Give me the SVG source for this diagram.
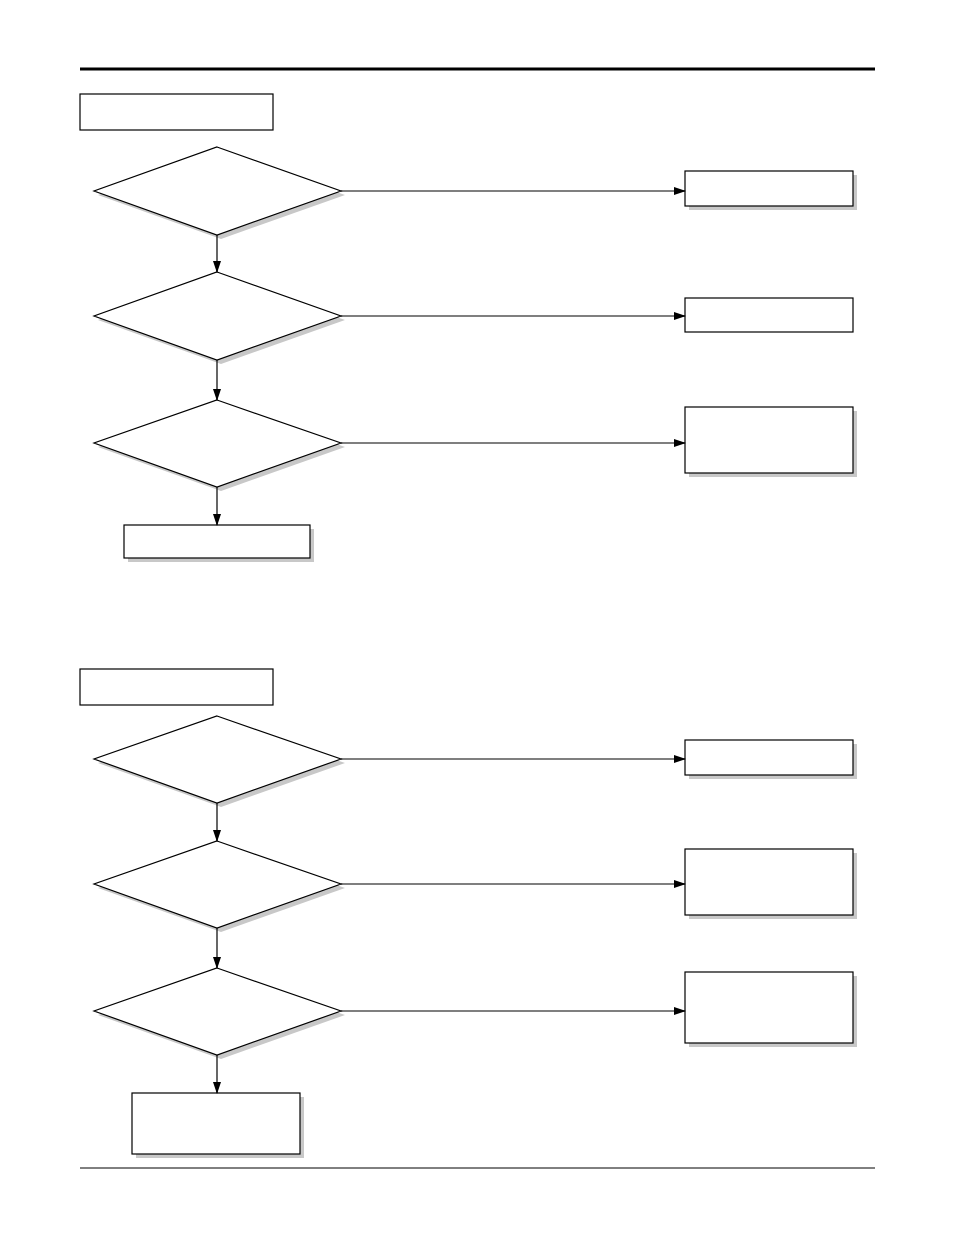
<svg xmlns="http://www.w3.org/2000/svg" width="954" height="1242" viewBox="0 0 954 1242">
<style>
.s{fill:#c8c8c8;stroke:none}
.n{fill:#fff;stroke:#000;stroke-width:1.2}
.c{stroke:#000;stroke-width:1.2;fill:none;marker-end:url(#a)}
</style>
<defs>
<marker id="a" markerWidth="12" markerHeight="8" refX="11" refY="4" orient="auto" markerUnits="userSpaceOnUse"><path d="M0,0L12,4L0,8z"/></marker>
</defs>
<rect width="954" height="1242" fill="#fff"/>
<line x1="80" y1="69" x2="875" y2="69" stroke="#000" stroke-width="3"/>
<line x1="80" y1="1168" x2="875" y2="1168" stroke="#000" stroke-width="1"/>
<g id="t1"><rect class="n" x="80" y="94" width="193" height="36"/></g>
<g id="d1"><polygon class="s" points="221,151 345,195 221,239 98,195"/><polygon class="n" points="217,147 341,191 217,235 94,191"/></g>
<g id="d2"><polygon class="s" points="221,276 345,320 221,364 98,320"/><polygon class="n" points="217,272 341,316 217,360 94,316"/></g>
<g id="d3"><polygon class="s" points="221,404 345,447 221,491 98,447"/><polygon class="n" points="217,400 341,443 217,487 94,443"/></g>
<g id="r1"><rect class="s" x="689" y="175" width="168" height="35"/><rect class="n" x="685" y="171" width="168" height="35"/></g>
<g id="r2"><rect class="n" x="685" y="298" width="168" height="34"/></g>
<g id="r3"><rect class="s" x="689" y="411" width="168" height="66"/><rect class="n" x="685" y="407" width="168" height="66"/></g>
<g id="b1"><rect class="s" x="128" y="529" width="186" height="33"/><rect class="n" x="124" y="525" width="186" height="33"/></g>
<g id="t2"><rect class="n" x="80" y="669" width="193" height="36"/></g>
<g id="d4"><polygon class="s" points="221,720 345,763 221,807 98,763"/><polygon class="n" points="217,716 341,759 217,803 94,759"/></g>
<g id="d5"><polygon class="s" points="221,845 345,888 221,932 98,888"/><polygon class="n" points="217,841 341,884 217,928 94,884"/></g>
<g id="d6"><polygon class="s" points="221,972 345,1015 221,1059 98,1015"/><polygon class="n" points="217,968 341,1011 217,1055 94,1011"/></g>
<g id="r4"><rect class="s" x="689" y="744" width="168" height="35"/><rect class="n" x="685" y="740" width="168" height="35"/></g>
<g id="r5"><rect class="s" x="689" y="853" width="168" height="66"/><rect class="n" x="685" y="849" width="168" height="66"/></g>
<g id="r6"><rect class="s" x="689" y="976" width="168" height="71"/><rect class="n" x="685" y="972" width="168" height="71"/></g>
<g id="b2"><rect class="s" x="136" y="1097" width="168" height="61"/><rect class="n" x="132" y="1093" width="168" height="61"/></g>
<g id="connectors">
<line class="c" x1="341" y1="191" x2="685" y2="191"/>
<line class="c" x1="341" y1="316" x2="685" y2="316"/>
<line class="c" x1="341" y1="443" x2="685" y2="443"/>
<line class="c" x1="217" y1="235" x2="217" y2="272"/>
<line class="c" x1="217" y1="360" x2="217" y2="400"/>
<line class="c" x1="217" y1="487" x2="217" y2="525"/>
<line class="c" x1="341" y1="759" x2="685" y2="759"/>
<line class="c" x1="341" y1="884" x2="685" y2="884"/>
<line class="c" x1="341" y1="1011" x2="685" y2="1011"/>
<line class="c" x1="217" y1="803" x2="217" y2="841"/>
<line class="c" x1="217" y1="928" x2="217" y2="968"/>
<line class="c" x1="217" y1="1055" x2="217" y2="1093"/>
</g>
</svg>
